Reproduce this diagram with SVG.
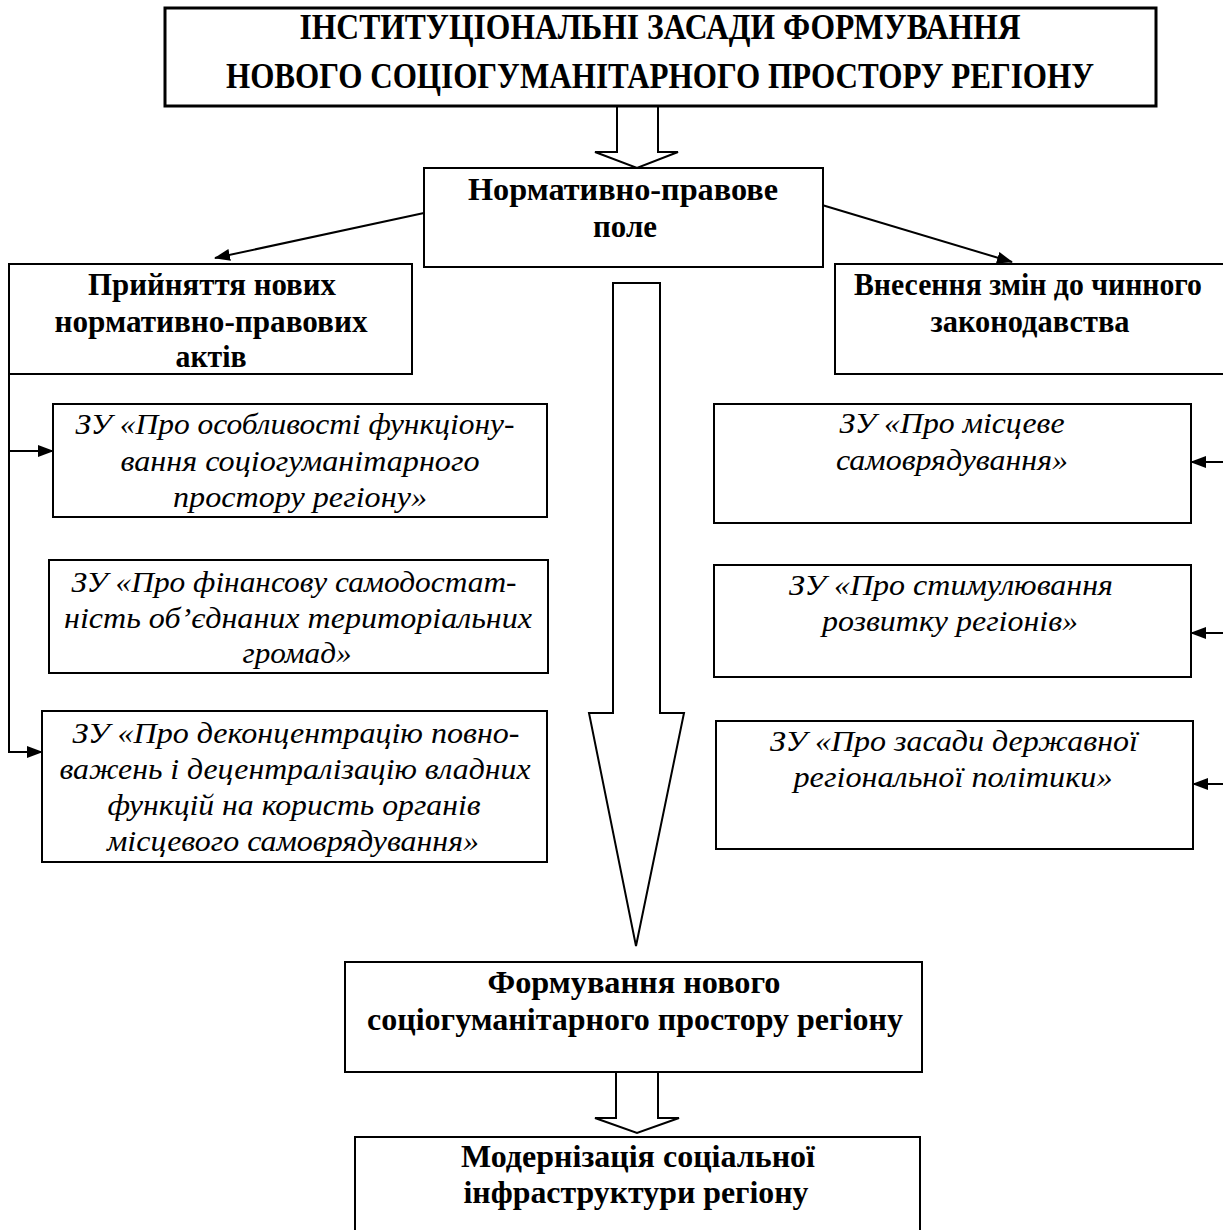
<svg xmlns="http://www.w3.org/2000/svg" width="1223" height="1230" viewBox="0 0 1223 1230">
  <style>
    .box { fill: #ffffff; stroke: #000000; stroke-width: 2; }
    .main { fill: #ffffff; stroke: #000000; stroke-width: 3; }
    .block { fill: #ffffff; stroke: #000000; stroke-width: 2; stroke-linejoin: miter; }
    .line { fill: none; stroke: #000000; stroke-width: 2; }
    .title { font-family: "Liberation Serif", "Times New Roman", serif; font-weight: bold; font-size: 35px; text-anchor: middle; fill: #000; }
    .head { font-family: "Liberation Serif", "Times New Roman", serif; font-weight: bold; font-size: 32px; text-anchor: middle; fill: #000; }
    .law { font-family: "Liberation Serif", "Times New Roman", serif; font-style: italic; font-size: 30px; text-anchor: middle; fill: #000; }
  </style>
  <defs>
    <marker id="arrow" markerWidth="16" markerHeight="12" refX="15" refY="6" orient="auto" markerUnits="userSpaceOnUse">
      <path d="M0,0 L16,6 L0,12 Z" fill="#000"/>
    </marker>
  </defs>

  <rect width="1223" height="1230" fill="#ffffff"/>

  <!-- connectors -->
  <g id="connectors">
    <!-- hollow block arrows -->
    <polygon class="block" points="617,106 658,106 658,152 678,152 637,168 595,152 617,152"/>
    <polygon class="block" points="613,283 660,283 660,713 684,713 636,946 589,713 613,713"/>
    <polygon class="block" points="616,1072 658,1072 658,1118 679,1118 637,1133 595,1118 616,1118"/>
    <!-- branches from the legal field -->
    <line class="line" x1="424" y1="213" x2="215" y2="258" marker-end="url(#arrow)"/>
    <line class="line" x1="822" y1="205" x2="1012" y2="262" marker-end="url(#arrow)"/>
    <!-- left bracket to new acts -->
    <polyline class="line" points="9,374 9,752"/>
    <line class="line" x1="8" y1="451" x2="53" y2="451" marker-end="url(#arrow)"/>
    <line class="line" x1="8" y1="752" x2="42" y2="752" marker-end="url(#arrow)"/>
    <!-- right side arrows to amended laws -->
    <line class="line" x1="1226" y1="462" x2="1191" y2="462" marker-end="url(#arrow)"/>
    <line class="line" x1="1226" y1="633" x2="1191" y2="633" marker-end="url(#arrow)"/>
    <line class="line" x1="1226" y1="784" x2="1193" y2="784" marker-end="url(#arrow)"/>
  </g>

  <g id="title">
    <rect class="main" x="165" y="8" width="991" height="98"/>
    <text class="title" x="660" y="39" textLength="721" lengthAdjust="spacingAndGlyphs">ІНСТИТУЦІОНАЛЬНІ ЗАСАДИ ФОРМУВАННЯ</text>
    <text class="title" x="660" y="88" textLength="868" lengthAdjust="spacingAndGlyphs">НОВОГО СОЦІОГУМАНІТАРНОГО ПРОСТОРУ РЕГІОНУ</text>
  </g>

  <g id="legal-field">
    <rect class="box" x="424" y="168" width="399" height="99"/>
    <text class="head" x="623" y="200" textLength="310" lengthAdjust="spacingAndGlyphs">Нормативно-правове</text>
    <text class="head" x="625" y="237" textLength="64" lengthAdjust="spacingAndGlyphs">поле</text>
  </g>

  <g id="new-acts">
    <rect class="box" x="9" y="264" width="403" height="110"/>
    <text class="head" x="212" y="295" textLength="248" lengthAdjust="spacingAndGlyphs">Прийняття нових</text>
    <text class="head" x="211" y="332" textLength="313" lengthAdjust="spacingAndGlyphs">нормативно-правових</text>
    <text class="head" x="211" y="367" textLength="71" lengthAdjust="spacingAndGlyphs">актів</text>
  </g>

  <g id="amendments">
    <!-- box runs past the right margin: top, left and bottom sides only -->
    <path class="box" d="M1223,264 H835 V374 H1223"/>
    <text class="head" x="1028" y="295" textLength="348" lengthAdjust="spacingAndGlyphs">Внесення змін до чинного</text>
    <text class="head" x="1030" y="332" textLength="199" lengthAdjust="spacingAndGlyphs">законодавства</text>
  </g>

  <g id="law-functioning">
    <rect class="box" x="53" y="404" width="494" height="113"/>
    <text class="law" x="295" y="434" textLength="439" lengthAdjust="spacingAndGlyphs">ЗУ «Про особливості функціону-</text>
    <text class="law" x="300" y="471" textLength="359" lengthAdjust="spacingAndGlyphs">вання соціогуманітарного</text>
    <text class="law" x="300" y="507" textLength="254" lengthAdjust="spacingAndGlyphs">простору регіону»</text>
  </g>

  <g id="law-finance">
    <rect class="box" x="49" y="560" width="499" height="113"/>
    <text class="law" x="294" y="592" textLength="445" lengthAdjust="spacingAndGlyphs">ЗУ «Про фінансову самодостат-</text>
    <text class="law" x="298" y="628" textLength="468" lengthAdjust="spacingAndGlyphs">ність об’єднаних територіальних</text>
    <text class="law" x="297" y="663" textLength="109" lengthAdjust="spacingAndGlyphs">громад»</text>
  </g>

  <g id="law-deconcentration">
    <rect class="box" x="42" y="711" width="505" height="151"/>
    <text class="law" x="296" y="743" textLength="447" lengthAdjust="spacingAndGlyphs">ЗУ «Про деконцентрацію повно-</text>
    <text class="law" x="295" y="779" textLength="471" lengthAdjust="spacingAndGlyphs">важень і децентралізацію владних</text>
    <text class="law" x="294" y="815" textLength="373" lengthAdjust="spacingAndGlyphs">функцій на користь органів</text>
    <text class="law" x="293" y="851" textLength="372" lengthAdjust="spacingAndGlyphs">місцевого самоврядування»</text>
  </g>

  <g id="law-self-government">
    <rect class="box" x="714" y="404" width="477" height="119"/>
    <text class="law" x="952" y="433" textLength="225" lengthAdjust="spacingAndGlyphs">ЗУ «Про місцеве</text>
    <text class="law" x="952" y="470" textLength="232" lengthAdjust="spacingAndGlyphs">самоврядування»</text>
  </g>

  <g id="law-stimulation">
    <rect class="box" x="714" y="565" width="477" height="112"/>
    <text class="law" x="951" y="595" textLength="324" lengthAdjust="spacingAndGlyphs">ЗУ «Про стимулювання</text>
    <text class="law" x="950" y="631" textLength="256" lengthAdjust="spacingAndGlyphs">розвитку регіонів»</text>
  </g>

  <g id="law-regional-policy">
    <rect class="box" x="716" y="721" width="477" height="128"/>
    <text class="law" x="954" y="751" textLength="368" lengthAdjust="spacingAndGlyphs">ЗУ «Про засади державної</text>
    <text class="law" x="953" y="787" textLength="319" lengthAdjust="spacingAndGlyphs">регіональної політики»</text>
  </g>

  <g id="forming-space">
    <rect class="box" x="345" y="962" width="577" height="110"/>
    <text class="head" x="634" y="993" textLength="293" lengthAdjust="spacingAndGlyphs">Формування нового</text>
    <text class="head" x="635" y="1030" textLength="536" lengthAdjust="spacingAndGlyphs">соціогуманітарного простору регіону</text>
  </g>

  <g id="modernization">
    <rect class="box" x="355" y="1137" width="565" height="110"/>
    <text class="head" x="638" y="1167" textLength="354" lengthAdjust="spacingAndGlyphs">Модернізація соціальної</text>
    <text class="head" x="636" y="1203" textLength="345" lengthAdjust="spacingAndGlyphs">інфраструктури регіону</text>
  </g>
</svg>
